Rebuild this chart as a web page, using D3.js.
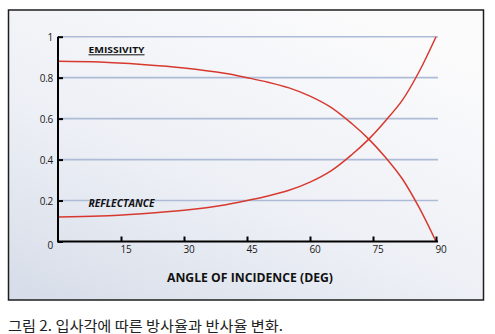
<!DOCTYPE html>
<html><head><meta charset="utf-8">
<script src="https://cdn.jsdelivr.net/npm/d3@7"></script>
<style>body{margin:0;background:#fff;}svg{display:block;}</style>
</head><body>
<svg id="chart" width="495" height="334"></svg>
<script>
const angles      = [0, 10, 20, 30, 40, 45, 50, 55, 60, 65, 70, 74, 78, 82, 86, 90];
const reflectance = [0.12, 0.124, 0.136, 0.153, 0.18, 0.20, 0.222, 0.25, 0.29, 0.345, 0.425, 0.50, 0.59, 0.69, 0.83, 1.0];
const emissivity  = [0.88, 0.876, 0.864, 0.847, 0.82, 0.80, 0.778, 0.75, 0.71, 0.655, 0.575, 0.50, 0.41, 0.305, 0.165, 0.0];
const xTicks = [15, 30, 45, 60, 75, 90];
const yTicks = [0, 0.2, 0.4, 0.6, 0.8, 1];
const yTickLabels = ["0", "0.2", "0.4", "0.6", "0.8", "1"];
const xTitle = "ANGLE OF INCIDENCE (DEG)";
const caption = "그림 2. 입사각에 따른 방사율과 반사율 변화.";

const svg = d3.select("#chart");
const font = "'Open Sans', 'Noto Sans', sans-serif";

const defs = svg.append("defs");
const grad = defs.append("linearGradient").attr("id","bg")
  .attr("x1","0").attr("y1","1").attr("x2","0.7").attr("y2","0");
grad.append("stop").attr("offset","0").attr("stop-color","#d6dce8");
grad.append("stop").attr("offset","0.45").attr("stop-color","#eceff5");
grad.append("stop").attr("offset","1").attr("stop-color","#fbfbfc");

svg.append("rect").attr("x",8.5).attr("y",10).attr("width",475).attr("height",290)
  .attr("fill","url(#bg)").attr("stroke","#1e1e1e").attr("stroke-width",1.5);

const x = d3.scaleLinear().domain([0, 90]).range([58, 436]);
const y = d3.scaleLinear().domain([0, 1]).range([241.5, 36.7]);

// gridlines
svg.append("g").selectAll("line").data(yTicks.filter(d => d > 0)).join("line")
  .attr("x1", x(0)).attr("x2", x(90) + 2)
  .attr("y1", d => y(d)).attr("y2", d => y(d))
  .attr("stroke", "#aebbd6").attr("stroke-width", 1.6);

// curves
const line = d3.line().x((d,i) => x(angles[i])).y(d => y(d)).curve(d3.curveCatmullRom.alpha(0.5));
[reflectance, emissivity].forEach(s => {
  svg.append("path").attr("d", line(s)).attr("fill","none")
    .attr("stroke","#d8392f").attr("stroke-width",1.5);
});

// y axis
const yAxis = d3.axisRight(y).tickValues(yTicks).tickSize(5).tickFormat("");
const gy = svg.append("g").attr("transform", `translate(${x(0)},0)`).call(yAxis);
gy.select(".domain").attr("stroke","#000").attr("stroke-width",2).attr("d", `M0,${y(1)}V${y(0)}`);
gy.selectAll(".tick line").attr("stroke","#000").attr("stroke-width",2);
svg.append("g").selectAll("text").data(yTicks).join("text")
  .attr("x", 53).attr("y", d => y(d) + (d === 0 ? 7 : 4))
  .attr("text-anchor","end").attr("font-family",font).attr("font-size",10)
  .attr("fill","#1a1a1a").attr("letter-spacing","-0.3")
  .text((d,i) => yTickLabels[i]);

// x axis
const xAxis = d3.axisTop(x).tickValues(xTicks).tickSize(5).tickFormat("");
const gx = svg.append("g").attr("transform", `translate(0,${y(0)})`).call(xAxis);
gx.select(".domain").attr("stroke","#000").attr("stroke-width",2).attr("d", `M${x(0)-1},0H${x(90)+2}`);
gx.selectAll(".tick line").attr("stroke","#000").attr("stroke-width",2);
svg.append("g").selectAll("text").data(xTicks).join("text")
  .attr("x", d => x(d) - 0.5).attr("y", 253)
  .attr("text-anchor","start").attr("font-family",font).attr("font-size",10)
  .attr("fill","#1a1a1a").attr("letter-spacing","-0.3")
  .text(d => d);

// axis title
svg.append("text").attr("x", 167).attr("y", 282)
  .attr("font-family",font).attr("font-weight","bold").attr("font-size",12.5)
  .attr("fill","#111").attr("textLength",166).attr("lengthAdjust","spacingAndGlyphs")
  .text(xTitle);

// series labels
svg.append("text").attr("x", 88.5).attr("y", 52.8)
  .attr("font-family",font).attr("font-weight","bold").attr("font-size",9)
  .attr("fill","#111").attr("textLength",56).attr("lengthAdjust","spacingAndGlyphs")
  .text("EMISSIVITY");
svg.append("line").attr("x1",88.5).attr("x2",144.5).attr("y1",54.8).attr("y2",54.8)
  .attr("stroke","#111").attr("stroke-width",1);
svg.append("text").attr("x", 88.5).attr("y", 206.6)
  .attr("font-family",font).attr("font-weight","bold").attr("font-style","italic").attr("font-size",10.5)
  .attr("fill","#111").attr("textLength",66).attr("lengthAdjust","spacingAndGlyphs")
  .text("REFLECTANCE");

// caption
svg.append("text").attr("x", 8).attr("y", 330.5)
  .attr("font-family","'Noto Sans CJK KR', sans-serif").attr("font-size",14)
  .attr("fill","#222").attr("textLength",275).attr("lengthAdjust","spacingAndGlyphs")
  .text(caption);
</script>
</body></html>
